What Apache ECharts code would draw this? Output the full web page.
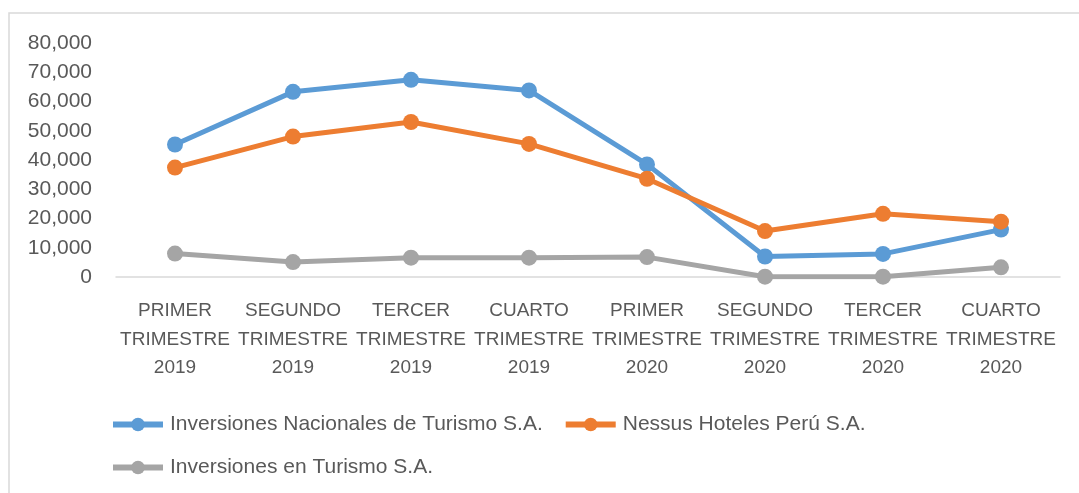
<!DOCTYPE html>
<html>
<head>
<meta charset="utf-8">
<script src="https://cdn.jsdelivr.net/npm/echarts@6/dist/echarts.min.js"></script>
<style>
html,body{margin:0;padding:0;background:#fff;}
#chart{width:1079px;height:493px;}
</style>
</head>
<body>
<div id="chart"></div>
<script>
var categories = [
  "PRIMER\nTRIMESTRE\n2019", "SEGUNDO\nTRIMESTRE\n2019", "TERCER\nTRIMESTRE\n2019", "CUARTO\nTRIMESTRE\n2019",
  "PRIMER\nTRIMESTRE\n2020", "SEGUNDO\nTRIMESTRE\n2020", "TERCER\nTRIMESTRE\n2020", "CUARTO\nTRIMESTRE\n2020"
];
var seriesNames = [
  "Inversiones Nacionales de Turismo S.A.",
  "Nessus Hoteles Perú S.A.",
  "Inversiones en Turismo S.A."
];
var inversionesNacionales = [45300, 63300, 67400, 63800, 38500, 7000, 7900, 16200];
var nessusHoteles = [37400, 48000, 53000, 45500, 33600, 15700, 21600, 18900];
var inversionesTurismo = [8000, 5100, 6600, 6600, 6800, 100, 100, 3300];
var yMin = 0, yMax = 80000, yInterval = 10000;

var colors = ["#5B9BD5", "#ED7D31", "#A5A5A5"];
var font = "Liberation Sans";

function fmt(v) {
  return String(v).replace(/\B(?=(\d{3})+(?!\d))/g, ",");
}

function mkSeries(name, data, color) {
  return {
    name: name, type: "line", data: data,
    symbol: "circle", symbolSize: 16,
    lineStyle: { width: 5, color: color },
    itemStyle: { color: color },
    emphasis: { disabled: true },
    animation: false
  };
}

var legendCommon = {
  padding: 0,
  itemWidth: 50, itemHeight: 17, itemGap: 20,
  lineStyle: { width: 6 },
  textStyle: { color: "#595959", fontFamily: font, fontSize: 21, padding: [0, 0, 0, 2] }
};

var chart = echarts.init(document.getElementById("chart"), null, { renderer: "canvas" });
chart.setOption({
  animation: false,
  graphic: [{
    type: "rect", shape: { x: 9, y: 13, width: 1100, height: 500 },
    style: { fill: "none", stroke: "#D9D9D9", lineWidth: 1.5 }, silent: true, z: -1
  }],
  grid: { left: 116, right: 19, top: 43, bottom: 216, containLabel: false },
  xAxis: {
    type: "category", data: categories, boundaryGap: true,
    axisLine: { lineStyle: { color: "#D9D9D9", width: 1.5 } },
    axisTick: { show: false },
    axisLabel: { interval: 0, color: "#595959", fontFamily: font, fontSize: 19, lineHeight: 28.5, margin: 20 }
  },
  yAxis: {
    type: "value", min: yMin, max: yMax, interval: yInterval,
    axisLine: { show: false }, axisTick: { show: false }, splitLine: { show: false },
    axisLabel: { color: "#595959", fontFamily: font, fontSize: 21, margin: 24, formatter: fmt }
  },
  legend: [
    Object.assign({ data: [seriesNames[0], seriesNames[1]], left: 110, top: 414 }, legendCommon),
    Object.assign({ data: [seriesNames[2]], left: 110, top: 457 }, legendCommon)
  ],
  series: [
    mkSeries(seriesNames[0], inversionesNacionales, colors[0]),
    mkSeries(seriesNames[1], nessusHoteles, colors[1]),
    mkSeries(seriesNames[2], inversionesTurismo, colors[2])
  ]
});
</script>
</body>
</html>
